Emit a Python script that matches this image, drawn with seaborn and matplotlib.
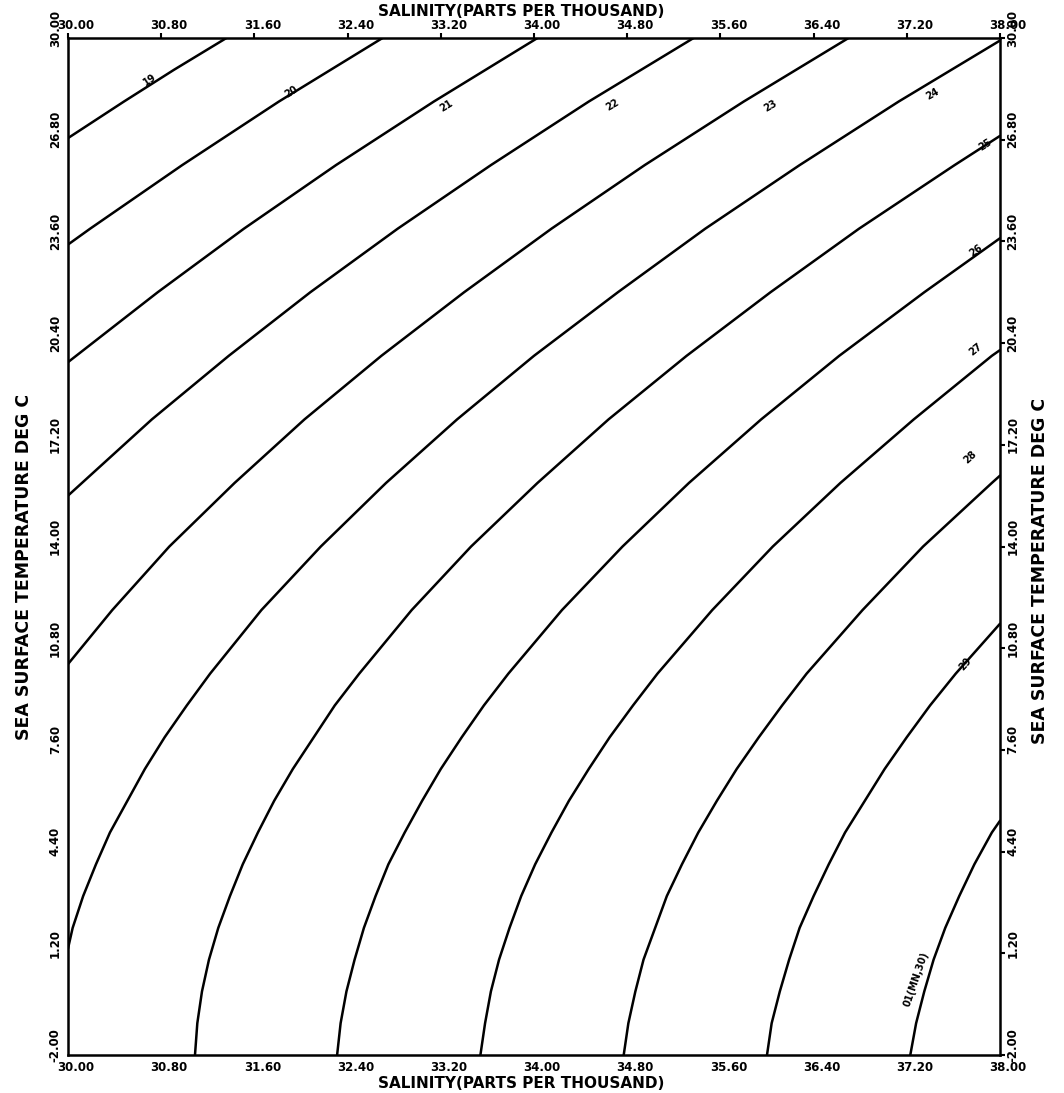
import pandas as pd
import matplotlib
matplotlib.use('Agg')
import matplotlib.pyplot as plt
from matplotlib.transforms import ScaledTranslation
import seaborn as sns

# contour lines (salinity, temperature)
sal_19 = [30.00, 30.48, 30.91, 31.36]
tmp_19 = [26.85, 28.0, 29.0, 30.0]
sal_20 = [30.00, 30.19, 30.98, 31.81, 32.70]
tmp_20 = [23.5, 24.0, 26.0, 28.0, 30.0]
sal_21 = [30.00, 30.07, 30.77, 31.51, 32.30, 33.14, 34.03]
tmp_21 = [19.8, 20.0, 22.0, 24.0, 26.0, 28.0, 30.0]
sal_22 = [30.00, 30.12, 30.72, 31.38, 32.08, 32.83, 33.63, 34.47, 35.37]
tmp_22 = [15.6, 16.0, 18.0, 20.0, 22.0, 24.0, 26.0, 28.0, 30.0]
sal_23 = [30.00, 30.38, 30.87, 31.43, 32.03, 32.69, 33.40, 34.15, 34.95, 35.80, 36.70]
tmp_23 = [10.3, 12.0, 14.0, 16.0, 18.0, 20.0, 22.0, 24.0, 26.0, 28.0, 30.0]
sal_24 = [30.00, 30.04, 30.13, 30.24, 30.36, 30.51, 30.66, 30.83, 31.02, 31.22,
          31.66, 32.17, 32.73, 33.34, 34.00, 34.72, 35.47, 36.28, 37.13, 38.00]
tmp_24 = [1.35, 2.0, 3.0, 4.0, 5.0, 6.0, 7.0, 8.0, 9.0, 10.0,
          12.0, 14.0, 16.0, 18.0, 20.0, 22.0, 24.0, 26.0, 28.0, 29.92]
sal_25 = [31.09, 31.11, 31.15, 31.21, 31.29, 31.39, 31.50, 31.63, 31.77, 31.93,
          32.11, 32.29, 32.50, 32.95, 33.46, 34.03, 34.64, 35.31, 36.03, 36.79,
          37.61, 38.00]
tmp_25 = [-2.0, -1.0, 0.0, 1.0, 2.0, 3.0, 4.0, 5.0, 6.0, 7.0,
          8.0, 9.0, 10.0, 12.0, 14.0, 16.0, 18.0, 20.0, 22.0, 24.0,
          26.0, 26.92]
sal_26 = [32.31, 32.34, 32.39, 32.46, 32.54, 32.64, 32.75, 32.89, 33.04, 33.20,
          33.38, 33.57, 33.78, 34.24, 34.76, 35.33, 35.95, 36.62, 37.35, 38.00]
tmp_26 = [-2.0, -1.0, 0.0, 1.0, 2.0, 3.0, 4.0, 5.0, 6.0, 7.0,
          8.0, 9.0, 10.0, 12.0, 14.0, 16.0, 18.0, 20.0, 22.0, 23.7]
sal_27 = [33.54, 33.58, 33.63, 33.70, 33.79, 33.89, 34.01, 34.15, 34.30, 34.47,
          34.65, 34.85, 35.06, 35.53, 36.05, 36.63, 37.26, 37.93, 38.00]
tmp_27 = [-2.0, -1.0, 0.0, 1.0, 2.0, 3.0, 4.0, 5.0, 6.0, 7.0,
          8.0, 9.0, 10.0, 12.0, 14.0, 16.0, 18.0, 20.0, 20.18]
sal_28 = [34.77, 34.81, 34.87, 34.94, 35.04, 35.14, 35.27, 35.41, 35.57, 35.74,
          35.93, 36.13, 36.34, 36.82, 37.34, 37.93, 38.00]
tmp_28 = [-2.0, -1.0, 0.0, 1.0, 2.0, 3.0, 4.0, 5.0, 6.0, 7.0,
          8.0, 9.0, 10.0, 12.0, 14.0, 16.0, 16.23]
sal_29 = [36.00, 36.04, 36.11, 36.19, 36.28, 36.40, 36.53, 36.67, 36.84, 37.01,
          37.20, 37.40, 37.62, 38.00]
tmp_29 = [-2.0, -1.0, 0.0, 1.0, 2.0, 3.0, 4.0, 5.0, 6.0, 7.0,
          8.0, 9.0, 10.0, 11.57]
sal_30 = [37.23, 37.28, 37.35, 37.43, 37.53, 37.65, 37.78, 37.93, 38.00]
tmp_30 = [-2.0, -1.0, 0.0, 1.0, 2.0, 3.0, 4.0, 5.0, 5.37]

levels = [19, 20, 21, 22, 23, 24, 25, 26, 27, 28, 29, 30]
sal_lines = [sal_19, sal_20, sal_21, sal_22, sal_23, sal_24,
             sal_25, sal_26, sal_27, sal_28, sal_29, sal_30]
tmp_lines = [tmp_19, tmp_20, tmp_21, tmp_22, tmp_23, tmp_24,
             tmp_25, tmp_26, tmp_27, tmp_28, tmp_29, tmp_30]

# labels written along the lines
label_text = ['19', '20', '21', '22', '23', '24', '25', '26', '27', '28', '29', '01(MN,30)']
label_sal = [30.70, 31.92, 33.25, 34.67, 36.03, 37.42, 37.87, 37.79, 37.79, 37.74, 37.70, 37.28]
label_tmp = [28.70, 28.30, 27.85, 27.90, 27.85, 28.25, 26.65, 23.30, 20.20, 16.80, 10.30, 0.40]
label_rot = [34, 33, 32, 31, 31, 30, 33, 36, 39, 43, 49, 71]

sal_ticks = [30.0 + 0.8 * i for i in range(11)]
tmp_ticks = [-2.0 + 3.2 * i for i in range(11)]

frames = []
for lev, s, t in zip(levels, sal_lines, tmp_lines):
    frames.append(pd.DataFrame({'salinity': s, 'temp': t, 'sigma': lev}))
df = pd.concat(frames, ignore_index=True)

sns.set_style('white')
plt.rcParams['font.family'] = ['DejaVu Sans']
plt.rcParams['font.weight'] = 'bold'
plt.rcParams['text.color'] = 'black'

fig = plt.figure(figsize=(10.64, 10.93), dpi=100)
# plot box: x 68..1000 px, y 38..1055 px
ax = fig.add_axes([68 / 1064, 1 - 1055 / 1093, 932 / 1064, 1017 / 1093])

sns.lineplot(data=df, x='salinity', y='temp', units='sigma', estimator=None,
             sort=False, color='black', linewidth=1.8, ax=ax, legend=False)

for txt, s, t, r in zip(label_text, label_sal, label_tmp, label_rot):
    ax.text(s, t, txt, rotation=r, fontsize=7, fontweight='bold',
            ha='center', va='center', color='black')

ax.set_xlim(30, 38)
ax.set_ylim(-2, 30)
ax.set_xticks(sal_ticks)
ax.set_yticks(tmp_ticks)
ax.set_xticklabels(['%.2f' % v for v in sal_ticks])
ax.set_yticklabels(['%.2f' % v for v in tmp_ticks], rotation=90, va='center')
ax.tick_params(axis='both', direction='out', length=3.5, width=1.5, pad=1,
               labelsize=8.5, top=True, right=True, labeltop=True, labelright=True,
               colors='black')
ax.set_xlabel('')
ax.set_ylabel('')
for sp in ax.spines.values():
    sp.set_linewidth(1.8)
    sp.set_color('black')

# plotter-style numbering: numbers sit a little right of / above their ticks
shift_x = ScaledTranslation(0.08, 0, fig.dpi_scale_trans)
shift_y = ScaledTranslation(0, 0.10, fig.dpi_scale_trans)
for tk in ax.xaxis.get_major_ticks():
    for lab in (tk.label1, tk.label2):
        lab.set_transform(lab.get_transform() + shift_x)
for tk in ax.yaxis.get_major_ticks():
    for lab in (tk.label1, tk.label2):
        lab.set_va('center')
        lab.set_transform(lab.get_transform() + shift_y)

ax.text(0.486, 1.0221, 'SALINITY(PARTS PER THOUSAND)', fontsize=11, color='black',
        ha='center', va='baseline', transform=ax.transAxes)
ax.text(0.486, -0.0325, 'SALINITY(PARTS PER THOUSAND)', fontsize=11, color='black',
        ha='center', va='baseline', transform=ax.transAxes)
ax.text(-0.047, 0.48, 'SEA SURFACE TEMPERATURE DEG C', rotation=90, fontsize=12.5,
        color='black', ha='center', va='center', transform=ax.transAxes)
ax.text(1.043, 0.476, 'SEA SURFACE TEMPERATURE DEG C', rotation=90, fontsize=12.5,
        color='black', ha='center', va='center', transform=ax.transAxes)

fig.savefig('out.png', dpi=100)
